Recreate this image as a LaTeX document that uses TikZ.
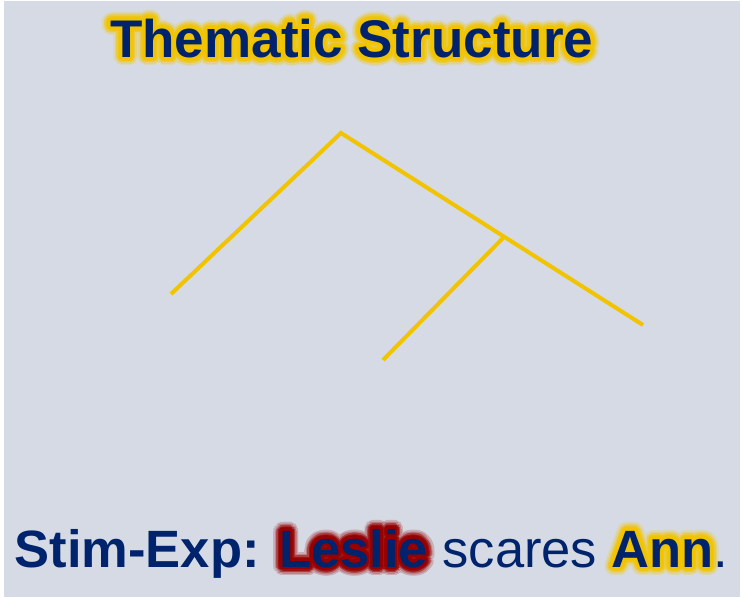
\documentclass[tikz,border=0pt]{standalone}
\usepackage{fontspec}
\setmainfont{Liberation Sans}
\definecolor{bgc}{RGB}{213,218,228}
\definecolor{goldc}{RGB}{242,196,0}
\definecolor{navyc}{RGB}{0,35,110}
\definecolor{redglow}{RGB}{150,0,0}
\newcommand\glowring[3]{%
  \foreach \ang in {0,15,...,345}{%
    \pgfmathsetlengthmacro\gx{#2*cos(\ang)}%
    \pgfmathsetlengthmacro\gy{#2*sin(\ang)}%
    \rlap{\kern\gx\raisebox{\gy}{\textcolor{#1}{#3}}}}}
\newcommand\glowit[2]{%
  \glowring{#1!20!bgc}{8.5pt}{#2}%
  \glowring{#1!40!bgc}{7pt}{#2}%
  \glowring{#1!70!bgc}{5.5pt}{#2}%
  \glowring{#1!92!bgc}{4pt}{#2}%
  \glowring{#1}{2.5pt}{#2}%
  \glowring{#1}{1.2pt}{#2}%
  #2}
\tikzset{
  branch/.style={draw=goldc, line width=4pt, line cap=butt, line join=miter},
  label/.style={inner sep=0pt, anchor=base west, text=navyc}
}
\begin{document}
\begin{tikzpicture}[x=1pt,y=-1pt]
\useasboundingbox (0,0) rectangle (741,599);
\fill[bgc] (4,1) rectangle (740,597);
% tree
\coordinate (root) at (341,133);
\coordinate (lleaf) at (171,294);
\coordinate (mid) at (503,238);
\coordinate (rleaf) at (643,325);
\coordinate (mleaf) at (383,360);
\draw[branch] (lleaf) -- (root) -- (rleaf);
\draw[branch] (mleaf) -- (mid);
% texts
\node[label, font=\fontsize{53}{60}\selectfont\bfseries] (title) at (110,57.5)
  {\glowit{goldc}{Thematic Structure}};
\node[label, font=\fontsize{52.5}{60}\selectfont] (sentence) at (14.5,567)
  {\textbf{Stim-Exp:} \glowit{redglow}{\textbf{Leslie}} scares \glowit{goldc}{\textbf{Ann}}.};
\end{tikzpicture}
\end{document}
